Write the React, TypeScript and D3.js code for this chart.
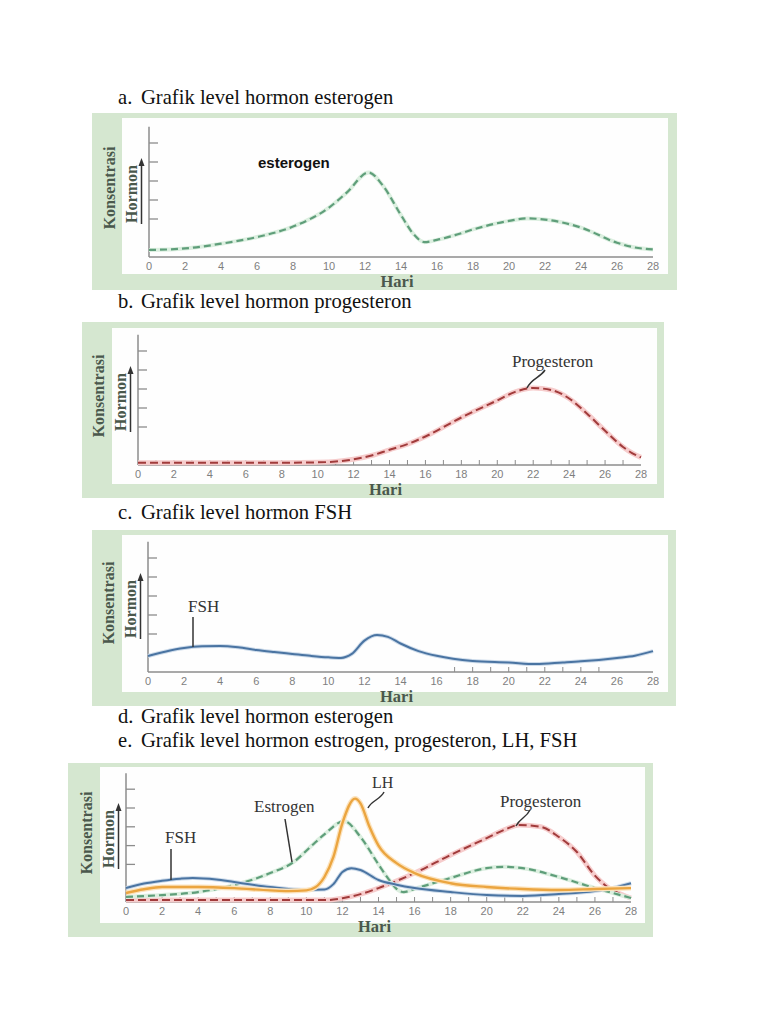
import React from "react";
import * as d3 from "d3";

type Pt = [number, number];

// ---------- DATA ----------
const tickDays = [0, 2, 4, 6, 8, 10, 12, 14, 16, 18, 20, 22, 24, 26, 28];
const yTickLevels = [2, 3, 4, 5, 6];

const titleLetters = ["a.", "b.", "c.", "d.", "e."];
const titleTexts = [
  "Grafik level hormon esterogen",
  "Grafik level hormon progesteron",
  "Grafik level hormon FSH",
  "Grafik level hormon esterogen",
  "Grafik level hormon estrogen, progesteron, LH, FSH",
];

// panel a – estrogen
const estrogenA: Pt[] = [
  [0, 0.37], [2, 0.45], [4, 0.7], [6, 1.05], [8, 1.6], [10, 2.6], [11, 3.4],
  [12.2, 4.45], [13, 3.75], [14, 2.2], [14.7, 1.2], [15.3, 0.78], [16, 0.9],
  [17, 1.15], [18, 1.45], [20, 1.9], [21, 2.03], [22, 1.97], [24, 1.55],
  [26, 0.75], [27, 0.5], [28, 0.4],
];

// panel b – progesterone
const progesteronB: Pt[] = [
  [0, 0.12], [4, 0.12], [8, 0.12], [10, 0.14], [11, 0.18], [12, 0.3], [13, 0.5],
  [14, 0.8], [15, 1.1], [16, 1.5], [18, 2.5], [20, 3.4], [21, 3.85], [22, 4.05],
  [23, 3.95], [24, 3.5], [25, 2.7], [26, 1.8], [27, 0.95], [27.5, 0.63], [28, 0.4],
];

// panel c – FSH
const fshC: Pt[] = [
  [0, 0.84], [1, 1.08], [2, 1.26], [3, 1.35], [4, 1.37], [5, 1.3], [6, 1.16],
  [7, 1.05], [8, 0.95], [9, 0.85], [10, 0.77], [10.7, 0.74], [11.3, 0.95],
  [12, 1.65], [12.7, 1.95], [13.3, 1.85], [14, 1.5], [15, 1.1], [16, 0.85],
  [18, 0.58], [20, 0.5], [21.5, 0.42], [23, 0.5], [24, 0.56], [26, 0.74],
  [27, 0.86], [28, 1.1],
];

// panel e – all hormones
const fshE: Pt[] = [
  [0, 0.74], [1, 0.98], [2, 1.13], [3, 1.24], [3.7, 1.28], [5, 1.2], [6, 1.06],
  [8, 0.8], [10, 0.64], [11, 0.66], [11.5, 0.95], [12, 1.6], [12.5, 1.8],
  [13, 1.7], [14, 1.17], [15, 0.92], [16, 0.74], [18, 0.53], [20, 0.37],
  [22, 0.32], [24, 0.42], [26, 0.58], [27, 0.75], [28, 1.0],
];
const lhE: Pt[] = [
  [0, 0.48], [1, 0.68], [2, 0.8], [4, 0.8], [6, 0.74], [8, 0.62], [9, 0.58],
  [10, 0.62], [10.5, 0.78], [11, 1.33], [11.5, 2.4], [12, 4.2], [12.7, 5.5],
  [13, 5.25], [13.5, 4.0], [14, 3.0], [15, 2.07], [16, 1.54], [18, 1.0],
  [20, 0.8], [22, 0.69], [24, 0.64], [26, 0.69], [28, 0.74],
];
const estrogenE: Pt[] = [
  [0, 0.27], [2, 0.37], [4, 0.53], [6, 0.9], [8, 1.54], [9.3, 2.13], [10.3, 3.0],
  [11, 3.6], [12.1, 4.3], [13, 3.46], [14, 2.0], [14.5, 1.3], [15, 0.7],
  [15.4, 0.53], [16, 0.7], [18, 1.28], [20, 1.8], [21, 1.87], [22, 1.8],
  [24, 1.33], [26, 0.74], [27, 0.48], [28, 0.21],
];
const progesteronE: Pt[] = [
  [0, 0.1], [4, 0.1], [8, 0.1], [11, 0.1], [12, 0.2], [13, 0.42], [14, 0.74],
  [16, 1.54], [18, 2.5], [20, 3.4], [21, 3.85], [21.8, 4.1], [23, 4.0],
  [24, 3.46], [25, 2.66], [26, 1.4], [26.7, 0.8], [27, 0.62], [28, 0.21],
];

// ---------- LAYOUT ----------
const titleY = [104, 308, 519, 723, 747];

type PanelCfg = {
  outer: [number, number, number, number];
  inner: [number, number, number, number];
  x0: number;
  x1: number;
  axisY: number;
  step: number;
  minor: number[];
};

const panelA: PanelCfg = { outer: [92, 113, 677, 290], inner: [122, 118, 668, 274], x0: 149, x1: 653, axisY: 257, step: 19, minor: [] };
const panelB: PanelCfg = { outer: [82, 322, 664, 498], inner: [112, 328, 657, 484], x0: 138, x1: 641, axisY: 465, step: 19, minor: d3.range(1, 28) };
const panelC: PanelCfg = { outer: [92, 530, 676, 706], inner: [122, 535, 668, 692], x0: 148, x1: 653, axisY: 672, step: 19, minor: d3.range(17, 26) };
const panelE: PanelCfg = { outer: [68, 763, 653, 937], inner: [100, 767, 645, 923], x0: 126, x1: 631, axisY: 902, step: 18.8, minor: d3.range(1, 28) };

const GREEN = "#d5e7d0";
const AXIS = "#8c8c8c";
const LABEL = "#4a584c";
const SERIF = "'Liberation Serif', 'Times New Roman', serif";
const SANS = "'Liberation Sans', Arial, sans-serif";

function scales(p: PanelCfg) {
  const x = d3.scaleLinear().domain([0, 28]).range([p.x0, p.x1]);
  const y = d3.scaleLinear().domain([0, 1]).range([p.axisY, p.axisY - p.step]);
  return { x, y };
}

function linePath(p: PanelCfg, data: Pt[]) {
  const { x, y } = scales(p);
  return (
    d3
      .line<Pt>()
      .x((d) => x(d[0]))
      .y((d) => y(d[1]))
      .curve(d3.curveMonotoneX)(data) || ""
  );
}

function Frame({ p }: { p: PanelCfg }) {
  const { x, y } = scales(p);
  const [ox0, oy0, ox1, oy1] = p.outer;
  const [ix0, iy0, ix1, iy1] = p.inner;
  const ax = p.x0;
  const top = y(6.85);
  return (
    <g>
      <rect x={ox0} y={oy0} width={ox1 - ox0} height={oy1 - oy0} fill={GREEN} />
      <rect x={ix0} y={iy0} width={ix1 - ix0} height={iy1 - iy0} fill="#fefefe" />
      {/* y axis */}
      <line x1={ax} x2={ax} y1={top} y2={p.axisY} stroke={AXIS} strokeWidth={1.5} />
      {yTickLevels.map((v) => (
        <line key={v} x1={ax} x2={ax + 9} y1={y(v)} y2={y(v)} stroke={AXIS} strokeWidth={1.3} />
      ))}
      {/* x axis */}
      <line x1={ax} x2={p.x1} y1={p.axisY} y2={p.axisY} stroke={AXIS} strokeWidth={1.5} />
      {p.minor.map((d) => (
        <line key={d} x1={x(d)} x2={x(d)} y1={p.axisY} y2={p.axisY - 5} stroke={AXIS} strokeWidth={1} />
      ))}
      {tickDays.map((d) => (
        <text key={d} x={x(d)} y={p.axisY + 13} textAnchor="middle" fontFamily={SANS} fontSize={11} fill="#7e7e7e">
          {d}
        </text>
      ))}
      <text x={(p.x0 + p.x1) / 2 - 4} y={p.axisY + 30} textAnchor="middle" fontFamily={SERIF} fontWeight="bold" fontSize={16.5} fill={LABEL}>
        Hari
      </text>
      {/* y label + arrow */}
      <text transform={`translate(${ax - 40},${p.axisY - 69}) rotate(-90)`} textAnchor="middle" dominantBaseline="central" fontFamily={SERIF} fontWeight="bold" fontSize={16} fill={LABEL}>
        Konsentrasi
      </text>
      <text transform={`translate(${ax - 18},${p.axisY - 63}) rotate(-90)`} textAnchor="middle" dominantBaseline="central" fontFamily={SERIF} fontWeight="bold" fontSize={16} fill={LABEL}>
        Hormon
      </text>
      <line x1={ax - 7.5} x2={ax - 7.5} y1={p.axisY - 33} y2={p.axisY - 92} stroke="#333" strokeWidth={1.5} />
      <path d={`M${ax - 10.5},${p.axisY - 91} L${ax - 4.5},${p.axisY - 91} L${ax - 7.5},${p.axisY - 99} Z`} fill="#333" />
    </g>
  );
}

function Estrogen({ p, data }: { p: PanelCfg; data: Pt[] }) {
  const d = linePath(p, data);
  return (
    <g fill="none">
      <path d={d} stroke="#dcefe0" strokeWidth={4} />
      <path d={d} stroke="#5f9e7a" strokeWidth={2.2} strokeDasharray="7 4" />
    </g>
  );
}
function Progesteron({ p, data }: { p: PanelCfg; data: Pt[] }) {
  const d = linePath(p, data);
  return (
    <g fill="none">
      <path d={d} stroke="#f6cccc" strokeWidth={5} />
      <path d={d} stroke="#a13b3b" strokeWidth={2} strokeDasharray="8 4" />
    </g>
  );
}
function Fsh({ p, data }: { p: PanelCfg; data: Pt[] }) {
  const d = linePath(p, data);
  return (
    <g fill="none">
      <path d={d} stroke="#cddbea" strokeWidth={4} />
      <path d={d} stroke="#4a74a2" strokeWidth={2} />
    </g>
  );
}
function Lh({ p, data }: { p: PanelCfg; data: Pt[] }) {
  const d = linePath(p, data);
  return (
    <g fill="none">
      <path d={d} stroke="#fce3bd" strokeWidth={5} />
      <path d={d} stroke="#eba540" strokeWidth={2.4} />
    </g>
  );
}

const lbl = { fontFamily: SERIF, fontSize: 17, fill: "#333" } as const;
const leader = { fill: "none", stroke: "#333", strokeWidth: 1.5 } as const;

export default function App() {
  return (
    <svg width={768} height={1024} viewBox="0 0 768 1024" style={{ position: "absolute", left: 0, top: 0, background: "#fff" }}>
      <rect width={768} height={1024} fill="#fff" />
      {titleTexts.map((t, i) => (
        <g key={i} fontFamily={SERIF} fontSize={20.6} fill="#111">
          <text x={118} y={titleY[i]}>{titleLetters[i]}</text>
          <text x={141} y={titleY[i]}>{t}</text>
        </g>
      ))}

      {/* Panel a */}
      <Frame p={panelA} />
      <Estrogen p={panelA} data={estrogenA} />
      <text x={258} y={168} fontFamily={SANS} fontWeight="bold" fontSize={15} fill="#111">esterogen</text>

      {/* Panel b */}
      <Frame p={panelB} />
      <Progesteron p={panelB} data={progesteronB} />
      <text x={512} y={367} {...lbl}>Progesteron</text>
      <path d="M545,370 C540,378 532,378 527,388" {...leader} />

      {/* Panel c */}
      <Frame p={panelC} />
      <Fsh p={panelC} data={fshC} />
      <text x={188} y={612} {...lbl}>FSH</text>
      <line x1={193} x2={193} y1={617} y2={647} {...leader} />

      {/* Panel e */}
      <Frame p={panelE} />
      <Progesteron p={panelE} data={progesteronE} />
      <Estrogen p={panelE} data={estrogenE} />
      <Fsh p={panelE} data={fshE} />
      <Lh p={panelE} data={lhE} />
      <text x={372} y={788} {...lbl} fontSize={16}>LH</text>
      <path d="M384,792 C380,800 372,800 368,808" {...leader} />
      <text x={254} y={812} {...lbl}>Estrogen</text>
      <line x1={285} y1={819} x2={292} y2={862} {...leader} />
      <text x={165} y={843} {...lbl}>FSH</text>
      <line x1={171} x2={171} y1={849} y2={880} {...leader} />
      <text x={500} y={807} {...lbl}>Progesteron</text>
      <path d="M530,810 C526,818 520,818 516,826" {...leader} />
    </svg>
  );
}
